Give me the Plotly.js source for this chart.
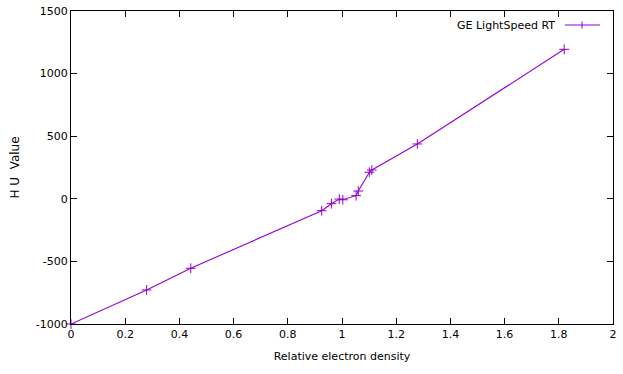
<!DOCTYPE html>
<html>
<head>
<meta charset="utf-8">
<script src="https://cdn.plot.ly/plotly-3.0.1.min.js"></script>
<style>html,body{margin:0;padding:0;background:#fff;}#chart{width:623px;height:374px;}</style>
</head>
<body>
<div id="chart"></div>
<script>
const seriesName = "GE LightSpeed RT";
const electronDensity = [0, 0.279, 0.442, 0.925, 0.961, 0.990, 1.003, 1.052, 1.060, 1.101, 1.110, 1.278, 1.820];
const huValue = [-1000, -728, -555, -95, -39, -2, -8, 25, 62, 212, 230, 438, 1194];
const xTicks = [0, 0.2, 0.4, 0.6, 0.8, 1, 1.2, 1.4, 1.6, 1.8, 2];
const xTickText = ["0", "0.2", "0.4", "0.6", "0.8", "1", "1.2", "1.4", "1.6", "1.8", "2"];
const yTicks = [-1000, -500, 0, 500, 1000, 1500];
const yTickText = ["-1000", "-500", "0", "500", "1000", "1500"];

const color = "#9400D3";
const fontFam = "DejaVu Sans, Verdana, sans-serif";

const trace = {
  x: electronDensity,
  y: huValue,
  type: "scatter",
  mode: "lines+markers",
  name: seriesName,
  line: {color: color, width: 1.1},
  marker: {symbol: "cross-thin-open", size: 7, color: color, line: {color: color, width: 1}},
  showlegend: false,
  cliponaxis: false
};

const axisCommon = {
  showgrid: false,
  zeroline: false,
  showline: true,
  linecolor: "#000",
  linewidth: 1,
  mirror: "ticks",
  ticks: "inside",
  ticklen: 6,
  tickcolor: "#000",
  tickwidth: 1,
  tickfont: {family: fontFam, size: 11, color: "#000"}
};

const layout = {
  width: 623,
  height: 374,
  margin: {l: 71, r: 10, t: 11, b: 50},
  paper_bgcolor: "#fff",
  plot_bgcolor: "#fff",
  font: {family: fontFam, size: 11, color: "#000"},
  xaxis: Object.assign({}, axisCommon, {
    range: [0, 2],
    tickmode: "array",
    tickvals: xTicks,
    ticktext: xTickText,
    title: {text: "Relative electron density", font: {family: fontFam, size: 11}, standoff: 12}
  }),
  yaxis: Object.assign({}, axisCommon, {
    range: [-1000, 1500],
    tickmode: "array",
    tickvals: yTicks,
    ticktext: yTickText,
    title: {text: "H U&#160;&#160;Value", font: {family: fontFam, size: 12}, standoff: 13}
  }),
  annotations: [{
    xref: "paper", yref: "paper", x: (557 - 71) / 542, y: (324 - 25) / 313,
    xanchor: "right", yanchor: "middle", showarrow: false,
    text: seriesName, font: {family: fontFam, size: 11, color: "#000"}
  }],
  shapes: [
    {type: "line", xref: "paper", yref: "paper",
     x0: (565 - 71) / 542, x1: (600 - 71) / 542, y0: (324 - 25) / 313, y1: (324 - 25) / 313,
     line: {color: color, width: 1.1}},
    {type: "line", xref: "paper", yref: "paper",
     x0: (582 - 71) / 542, x1: (582 - 71) / 542, y0: (324 - 21.5) / 313, y1: (324 - 28.5) / 313,
     line: {color: color, width: 1}}
  ]
};

Plotly.newPlot("chart", [trace], layout, {displayModeBar: false, staticPlot: true});
</script>
</body>
</html>
